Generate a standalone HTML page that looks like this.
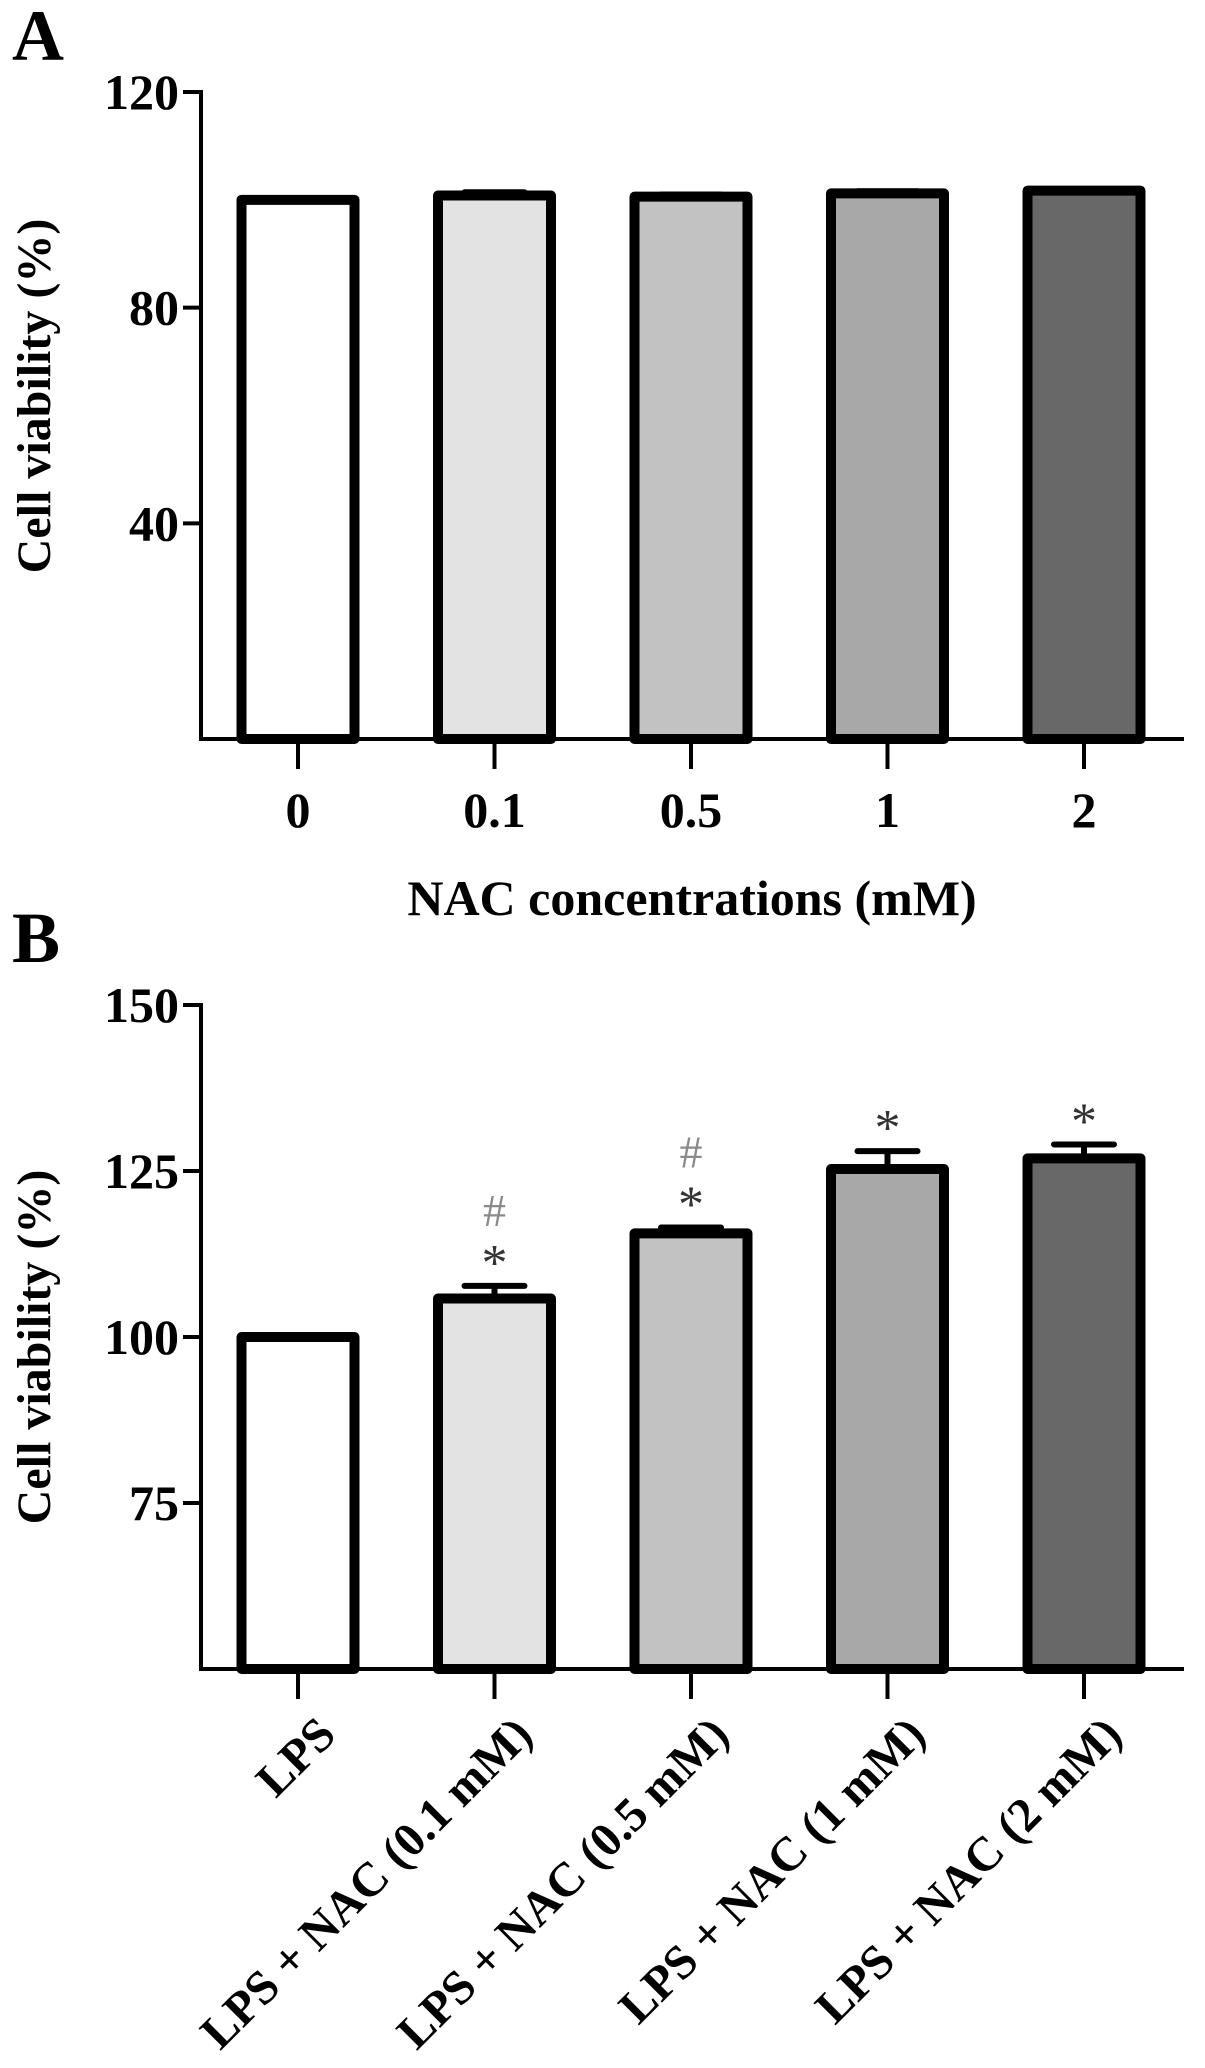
<!DOCTYPE html>
<html><head><meta charset="utf-8"><style>
html,body{margin:0;padding:0;background:#fff;}
svg{display:block;font-family:"Liberation Serif",serif;font-weight:bold;}
</style></head><body>
<svg id="chart" width="1205" height="2068" viewBox="0 0 1205 2068">
<text x="12" y="60" font-size="72">A</text>
<text x="12" y="962" font-size="72">B</text>
<g id="A"></g>
<g id="B"></g>
</svg>
<script>
const catsA = ["0","0.1","0.5","1","2"];
const valsA = [100,100.8,100.6,101.2,101.7];
const errA = [0,0.6,0.4,0.4,0.3];
const ticksA = [40,80,120];
const catsB = ["LPS","LPS + NAC (0.1 mM)","LPS + NAC (0.5 mM)","LPS + NAC (1 mM)","LPS + NAC (2 mM)"];
const valsB = [100,105.8,115.6,125.3,126.9];
const errB = [0,1.9,0.9,2.7,2.1];
const ticksB = [75,100,125,150];
const starB = [false,true,true,true,true];
const hashB = [false,true,true,false,false];
const fills = ["#ffffff","#e3e3e3","#c2c2c2","#a8a8a8","#686868"];
const NS="http://www.w3.org/2000/svg";
function mk(p,tag,attrs){const e=document.createElementNS(NS,tag);for(const k in attrs)e.setAttribute(k,attrs[k]);p.appendChild(e);return e;}
function panel(g,cats,vals,errs,ticks,ymin,ymax,yTop,yBot,rotated){
  const x0=201,x1=1184;
  const y=v=>yBot-(v-ymin)/(ymax-ymin)*(yBot-yTop);
  const xc=i=>298+i*196.5;
  const ax=mk(g,"line",{x1:x0,y1:yTop-2,x2:x0,y2:yBot+2,stroke:"#000","stroke-width":4});
  
  
  const bx=mk(g,"line",{x1:x0,y1:yBot,x2:x1,y2:yBot,stroke:"#000","stroke-width":4});
  
  
  ticks.forEach(t=>{
    const tk=mk(g,"line",{x1:x0-18,y1:y(t),x2:x0,y2:y(t),stroke:"#000","stroke-width":4});
    
    
    const tl=mk(g,"text",{x:x0-22,y:y(t)+17,"font-size":50,"text-anchor":"end"});
    tl.textContent=t;
    
    
  });
  cats.forEach((c,i)=>{
    const cx=xc(i),w=113,top=y(vals[i]);
    if(errs[i]>0){
      const et=y(vals[i]+errs[i]);
      const el=mk(g,"path",{d:`M${cx},${top} V${et} M${cx-30},${et} H${cx+30}`,stroke:"#000","stroke-width":6,fill:"none","stroke-linecap":"round"});
      
      
    }
    const r=mk(g,"rect",{x:cx-w/2,y:top,width:w,height:yBot-top,fill:fills[i],stroke:"#000","stroke-width":10,"stroke-linejoin":"round"});
    
    
    const tk=mk(g,"line",{x1:cx,y1:yBot,x2:cx,y2:yBot+30,stroke:"#000","stroke-width":4});
    
    
    let t;
    if(rotated){
      t=mk(g,"text",{x:cx+40,y:yBot+68,"font-size":48,"text-anchor":"end",transform:`rotate(-45 ${cx+40} ${yBot+68})`});
    } else {
      t=mk(g,"text",{x:cx,y:yBot+88,"font-size":50,"text-anchor":"middle"});
    }
    t.textContent=c;
    
    
  });
  return {y,xc};
}
const A=panel(document.getElementById("A"),catsA,valsA,errA,ticksA,0,120,92,739,false);
const B=panel(document.getElementById("B"),catsB,valsB,errB,ticksB,50,150,1005,1669,true);
const gA=document.getElementById("A"),gB=document.getElementById("B");
const xt=mk(gA,"text",{x:692,y:915,"font-size":50,"text-anchor":"middle"});
xt.textContent="NAC concentrations (mM)";


[[gA,396],[gB,1347]].forEach(([g,cy])=>{
  const t=mk(g,"text",{x:50,y:cy,"font-size":48,"text-anchor":"middle",transform:`rotate(-90 50 ${cy})`});
  t.textContent="Cell viability (%)";
  
  
});
catsB.forEach((c,i)=>{
  const et=B.y(valsB[i]+errB[i]);
  if(starB[i]){
    const s=mk(gB,"text",{x:B.xc(i),y:et-6,"font-size":52,"font-weight":"normal","text-anchor":"middle",fill:"#333"});
    s.textContent="*";
    
    
  }
  if(hashB[i]){
    const h=mk(gB,"text",{x:B.xc(i),y:et-60,"font-size":46,"font-weight":"normal","text-anchor":"middle",fill:"#8a8a8a"});
    h.textContent="#";
    
    
  }
});
</script>
</body></html>
